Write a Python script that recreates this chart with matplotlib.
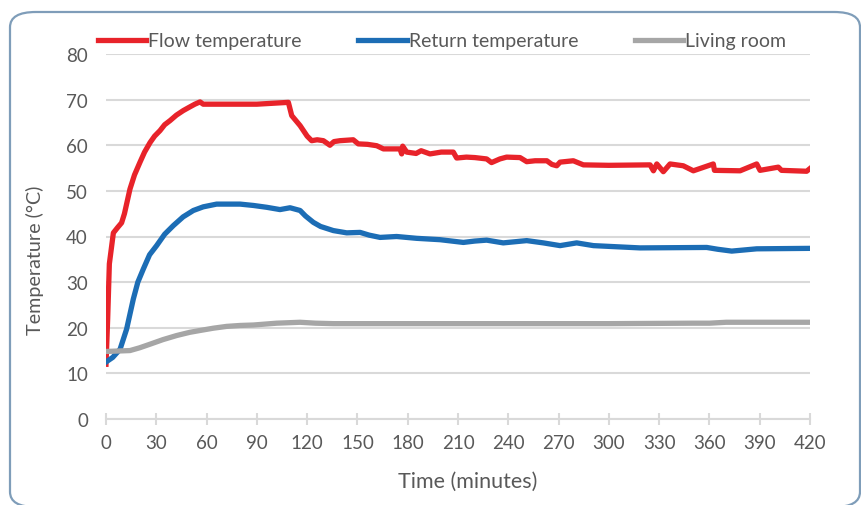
import matplotlib
matplotlib.use('Agg')
import matplotlib.pyplot as plt
from matplotlib.patches import FancyBboxPatch


# 数据：时间(分钟)和温度(°C)，从图上读出来的
flow_t = [0, 1, 2, 4.4, 7, 9.3, 11, 14.3, 17, 20.3, 23, 26.3, 29, 32.2, 35, 38.2, 42, 46.1, 50, 53,
          56.1, 58, 70, 90, 108.8, 110.8, 115.8, 120, 122.7, 126, 129.7, 133.6, 136, 139.6, 147.5,
          150.5, 156, 161.5, 165.5, 175.4, 176.4, 177, 179.4, 185, 188, 193.3, 200, 207.2, 209.2,
          215, 220, 227.1, 230, 235, 239, 247, 251, 256, 263, 266, 268.9, 270.9, 278.8, 284.8, 300,
          324.6, 326.6, 328.6, 332.5, 336.5, 344.4, 350.4, 362.3, 363, 378.3, 388.2, 390.2, 401.1,
          403, 418, 420]
flow_T = [12, 22, 34, 40.8, 42, 43, 45, 50.4, 53.5, 56.3, 58.5, 60.6, 62, 63.2, 64.5, 65.4, 66.6, 67.6,
          68.4, 69, 69.5, 69, 69, 69, 69.4, 66.5, 64.3, 62, 61, 61.2, 61, 60, 60.8, 61, 61.2, 60.3,
          60.2, 59.9, 59.2, 59.2, 58.1, 59.8, 58.5, 58.2, 58.8, 58.1, 58.5, 58.5, 57.2, 57.4, 57.3,
          57.0, 56.2, 57.0, 57.4, 57.3, 56.4, 56.6, 56.6, 55.8, 55.5, 56.3, 56.6, 55.7, 55.6, 55.7,
          54.4, 55.9, 54.2, 55.9, 55.5, 54.4, 55.9, 54.5, 54.4, 55.9, 54.5, 55.2, 54.5, 54.3, 54.9]

return_t = [0, 4, 8.4, 12.3, 16.3, 19, 22.3, 26, 30.2, 35, 40.2, 46, 52.1, 58, 66, 80, 88, 95.9,
            103.8, 109.8, 115.8, 119, 123.7, 128, 135.6, 143.6, 151.6, 157, 163.5, 173.4, 185.3,
            199.3, 213.2, 220, 227.1, 237, 251, 260.9, 270.9, 280.8, 290.8, 318.6, 358.4, 365,
            373.3, 388.2, 420]
return_T = [12.5, 13.5, 15.3, 19.7, 26.3, 30, 32.9, 36, 38, 40.5, 42.4, 44.3, 45.7, 46.5, 47.1, 47.1,
            46.8, 46.4, 45.9, 46.3, 45.7, 44.5, 43.1, 42.2, 41.3, 40.8, 40.9, 40.3, 39.8, 40.0, 39.6,
            39.3, 38.7, 39.0, 39.2, 38.6, 39.1, 38.6, 38.0, 38.6, 38.0, 37.5, 37.6, 37.2, 36.8, 37.3,
            37.4]

room_t = [0, 14.3, 20, 26.3, 34, 42.2, 50, 56.1, 64, 72, 80, 87.9, 101.8, 115.8, 125, 135.6, 200,
          300, 350, 360, 370, 420]
room_T = [14.8, 15.0, 15.6, 16.4, 17.4, 18.3, 19.0, 19.4, 19.9, 20.3, 20.5, 20.6, 21.0, 21.2, 21.0,
          20.9, 20.9, 20.9, 21.0, 21.0, 21.2, 21.2]

x_ticks = list(range(0, 421, 30))
y_ticks = list(range(0, 81, 10))

labels = ['Flow temperature', 'Return temperature', 'Living room']
colors = ['#E8232A', '#1C6DB5', '#A6A6A6']

text_color = '#595959'
grid_color = '#D9D9D9'


if __name__ == '__main__':
    plt.rcParams['font.family'] = ['Lato', 'DejaVu Sans']

    fig = plt.figure(figsize=(8.61, 5.06), dpi=100)

    # 外面的圆角框
    frame = FancyBboxPatch((10 / 861, 1 - 508 / 506), 850 / 861, 495 / 506,
                           boxstyle='round,pad=0,rounding_size=0.03',
                           transform=fig.transFigure, facecolor='none',
                           edgecolor='#7F9DB9', linewidth=1.6, clip_on=False)
    fig.patches.append(frame)

    ax = fig.add_axes([106 / 861, 1 - 420 / 506, 704 / 861, 365 / 506])

    for t, T, lab, c in zip([flow_t, return_t, room_t], [flow_T, return_T, room_T], labels, colors):
        ax.plot(t, T, color=c, linewidth=3.8, label=lab, solid_joinstyle='round', zorder=3)

    ax.set_xlim(0, 420)
    ax.set_ylim(0, 80)
    ax.set_xticks(x_ticks)
    ax.set_yticks(y_ticks)

    # 网格线只画横的
    ax.yaxis.grid(True, color=grid_color, linewidth=1.5)
    ax.set_axisbelow(True)

    for s in ['top', 'right', 'left']:
        ax.spines[s].set_visible(False)
    ax.spines['bottom'].set_color(grid_color)
    ax.spines['bottom'].set_linewidth(1.5)

    ax.tick_params(axis='y', length=0, pad=13, labelsize=13.5, labelcolor=text_color)
    ax.tick_params(axis='x', direction='inout', length=9, width=1.5, color=grid_color,
                   pad=6, labelsize=13.5, labelcolor=text_color)

    fig.text(35 / 861, 1 - 260 / 506, 'Temperature (°C)', rotation=90, ha='center', va='center',
             fontsize=14.2, color=text_color)
    fig.text(468 / 861, 1 - 482 / 506, 'Time (minutes)', ha='center', va='center',
             fontsize=15.5, color=text_color)

    ax.legend(loc='center', bbox_to_anchor=(442 / 861, 1 - 42 / 506), bbox_transform=fig.transFigure,
              ncol=3, frameon=False, fontsize=14, labelcolor=text_color, handlelength=2.5,
              handletextpad=0.1, columnspacing=2.9, borderpad=0)

    plt.savefig('out.png', dpi=100)
